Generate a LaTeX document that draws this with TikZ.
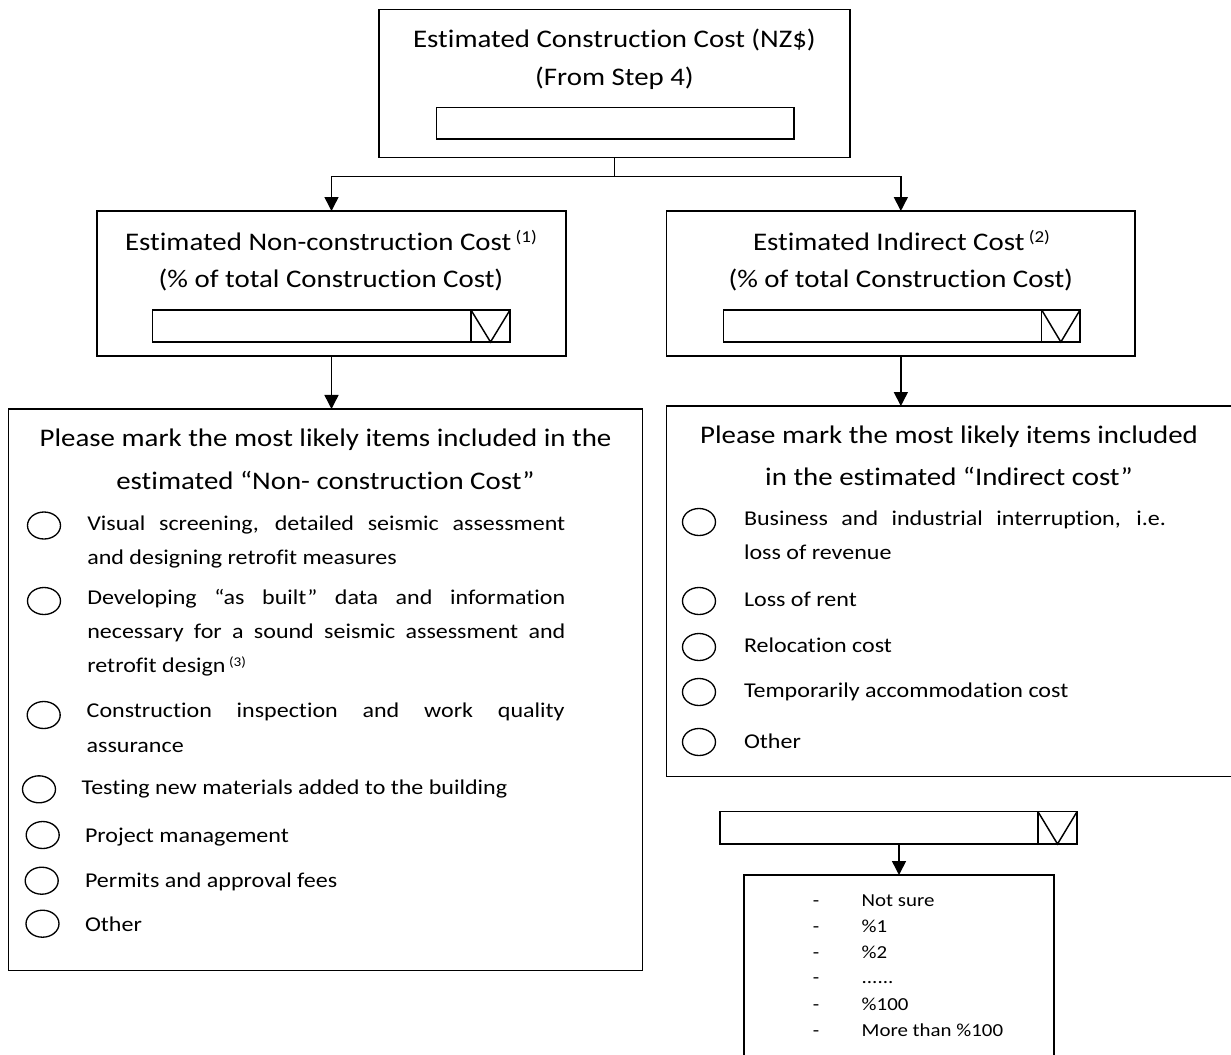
\documentclass[tikz,border=0pt]{standalone}
\usepackage{fontspec}
\setmainfont{Carlito}[FakeStretch=1.14,Ligatures=NoCommon]
\usetikzlibrary{arrows.meta,shapes.geometric}
\newcommand\ttlfont{\fontsize{19}{19}\selectfont}
\newcommand\itmfont{\fontsize{15.8}{15.8}\selectfont}
\newcommand\lstfont{\fontsize{13.75}{13.75}\selectfont}
\newcommand\mysupT[1]{{\fontsize{12.5}{12.5}\selectfont\ \raisebox{6pt}{#1}}}
\newcommand\mysupI[1]{{\fontsize{10}{10}\selectfont\ \raisebox{4pt}{#1}}}
\newcommand\jL[1]{\makebox[358.5pt][s]{#1}}
\newcommand\jR[1]{\makebox[316.5pt][s]{#1}}
\begin{document}
\begin{tikzpicture}[x=0.75pt,y=-0.75pt,
  box/.style={draw, line width=1.1pt, rectangle, inner sep=0pt, outer sep=0pt},
  ln/.style={line width=1.1pt},
  arr/.style={line width=1.1pt, -{Triangle[width=10.5pt,length=10.5pt]}},
  txt/.style={inner sep=0pt, outer sep=0pt, anchor=base},
  itm/.style={inner sep=0pt, outer sep=0pt, anchor=base west, font=\itmfont},
  lst/.style={inner sep=0pt, outer sep=0pt, font=\lstfont},
  chk/.style={draw, ellipse, line width=1pt, minimum width=24.75pt, minimum height=20.25pt, inner sep=0pt}]
\useasboundingbox (0,0) rectangle (1231,1054);
\clip (0,0) rectangle (1231,1054);

% top box
\node[box, minimum width=353.25pt, minimum height=110.8pt] (topbox) at (614.5,83.45) {};
\node[txt, font=\ttlfont] (t1) at (614.5,47.7) {Estimated Construction Cost (NZ\$)};
\node[txt, font=\ttlfont] (t2) at (614.5,85.5) {(From Step 4)};
\node[box, minimum width=268pt, minimum height=23.8pt] (topin) at (615.35,123.15) {};
\coordinate (jn) at (614.5,176.7);

% middle left
\node[box, minimum width=351.75pt, minimum height=108.75pt] (midL) at (331.5,283.5) {};
\node[txt, font=\ttlfont] (mL1) at (331,250) {Estimated Non-construction Cost\mysupT{(1)}};
\node[txt, font=\ttlfont] (mL2) at (331,287) {(\% of total Construction Cost)};
\node[box, minimum width=238.7pt, minimum height=24pt] (ddL) at (311.85,326) {};
\node[box, minimum width=29.25pt, minimum height=24pt] (ddLc) at (490.5,326) {};
\draw[ln] (ddLc.north west) -- (ddLc.south) -- (ddLc.north east);

% middle right
\node[box, minimum width=351.2pt, minimum height=108.75pt] (midR) at (900.85,283.5) {};
\node[txt, font=\ttlfont] (mR1) at (901.5,250) {Estimated Indirect Cost\mysupT{(2)}};
\node[txt, font=\ttlfont] (mR2) at (900.8,287) {(\% of total Construction Cost)};
\node[box, minimum width=238.8pt, minimum height=24pt] (ddR) at (882.5,326) {};
\node[box, minimum width=28.7pt, minimum height=24pt] (ddRc) at (1060.85,326) {};
\draw[ln] (ddRc.north west) -- (ddRc.south) -- (ddRc.north east);

% big left
\node[box, minimum width=475.8pt, minimum height=421.3pt] (bigL) at (325.5,689.85) {};
\node[txt, font=\ttlfont] (bL1) at (325.5,446.7) {Please mark the most likely items included in the};
\node[txt, font=\ttlfont] (bL2) at (325.5,489.3) {estimated “Non- construction Cost”};
\node[itm] (a1) at (87.3,530) {\jL{Visual screening, detailed seismic assessment}};
\node[itm] (a2) at (87.3,564) {and designing retrofit measures};
\node[itm] (b1) at (87.3,604) {\jL{Developing “as built” data and information}};
\node[itm] (b2) at (87.3,638) {\jL{necessary for a sound seismic assessment and}};
\node[itm] (b3) at (87.3,672) {retrofit design\mysupI{(3)}};
\node[itm] (c1) at (86.7,717) {\jL{Construction inspection and work quality}};
\node[itm] (c2) at (86.7,752) {assurance};
\node[itm] (d1) at (81.7,794) {Testing new materials added to the building};
\node[itm] (e1) at (85,842) {Project management};
\node[itm] (f1) at (85,887) {Permits and approval fees};
\node[itm] (g1) at (85,931) {Other};
\node[chk] (ca) at (44,525.5) {};
\node[chk] (cb) at (44,601) {};
\node[chk] (cc) at (43.7,715) {};
\node[chk] (cd) at (39,789.3) {};
\node[chk] (ce) at (42.7,835) {};
\node[chk] (cf) at (41.7,880.7) {};
\node[chk] (cg) at (42.5,923.7) {};

% big right
\node[box, minimum width=427.1pt, minimum height=278pt] (bigR) at (951.25,591.35) {};
\node[txt, font=\ttlfont] (bR1) at (949,443) {Please mark the most likely items included};
\node[txt, font=\ttlfont] (bR2) at (949,485) {in the estimated “Indirect cost”};
\node[itm] (h1) at (744,525) {\jR{Business and industrial interruption, i.e.}};
\node[itm] (h2) at (744,559) {loss of revenue};
\node[itm] (i1) at (744,606) {Loss of rent};
\node[itm] (j1) at (744,652) {Relocation cost};
\node[itm] (k1) at (744,697) {Temporarily accommodation cost};
\node[itm] (l1) at (744,748) {Other};
\node[chk] (ch) at (699,522) {};
\node[chk] (ci) at (699,601) {};
\node[chk] (cj) at (699,647) {};
\node[chk] (ck) at (699,692) {};
\node[chk] (cl) at (699,742) {};

% bottom dropdown and list
\node[box, minimum width=238.5pt, minimum height=24.2pt] (dd3) at (879,827.85) {};
\node[box, minimum width=29.25pt, minimum height=24.2pt] (dd3c) at (1057.5,827.85) {};
\draw[ln] (dd3c.north west) -- (dd3c.south) -- (dd3c.north east);
\node[box, minimum width=232.5pt, minimum height=146.25pt] (list) at (899,972.5) {};
\node[lst, anchor=base] (dp1) at (816,906.7) {-};
\node[lst, anchor=base west] (p1) at (861.7,906.7) {Not sure};
\node[lst, anchor=base] (dp2) at (816,932.3) {-};
\node[lst, anchor=base west] (p2) at (861.7,932.3) {\%1};
\node[lst, anchor=base] (dp3) at (816,958.3) {-};
\node[lst, anchor=base west] (p3) at (861.7,958.3) {\%2};
\node[lst, anchor=base] (dp4) at (816,983.3) {-};
\node[lst, anchor=base west] (p4) at (861.7,983.3) {......};
\node[lst, anchor=base] (dp5) at (816,1010) {-};
\node[lst, anchor=base west] (p5) at (861.7,1010) {\%100};
\node[lst, anchor=base] (dp6) at (816,1036) {-};
\node[lst, anchor=base west] (p6) at (861.7,1036) {More than \%100};

% connectors
\draw[ln] (topbox.south) -- (jn);
\draw[arr] (jn) -| (midL.north);
\draw[arr] (jn) -| (midR.north);
\draw[arr] (midL.south) -- (midL.south |- bigL.north);
\draw[arr] (midR.south) -- (midR.south |- bigR.north);
\draw[arr] (dd3.south -| list.north) -- (list.north);
\end{tikzpicture}
\end{document}
